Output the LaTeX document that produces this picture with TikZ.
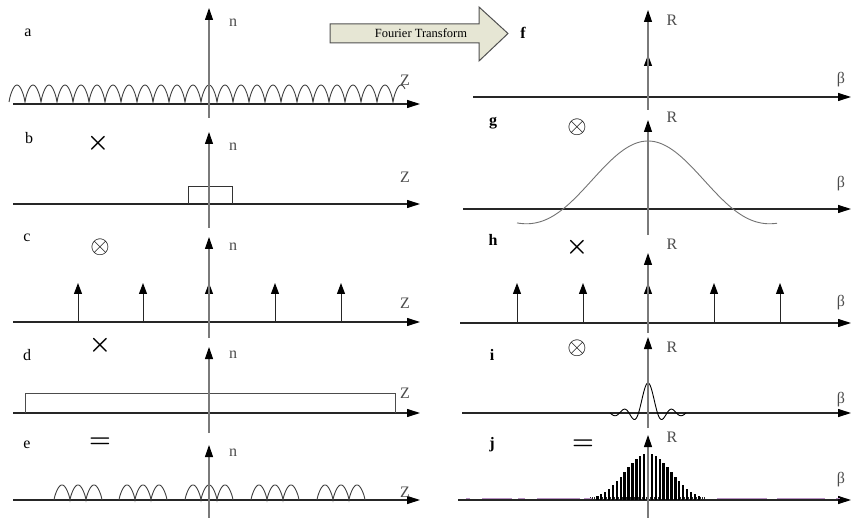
\documentclass[tikz,border=0pt]{standalone}
\usepackage{amsmath}
\usepackage{fontspec}
\setmainfont{Liberation Serif}
\usepackage{tikz}
\usetikzlibrary{arrows.meta}
\definecolor{axisgrey}{HTML}{7A7A7A}
\definecolor{axisdark}{HTML}{262626}
\definecolor{ftfill}{HTML}{E6E6D4}
\definecolor{ftedge}{HTML}{505050}
\definecolor{speck}{HTML}{B890C4}
\tikzset{
  vaxis/.style = {draw=axisgrey, line width=1.1pt, -{Triangle[length=12pt,width=8pt,black]}},
  haxis/.style = {draw=axisdark, line width=1.1pt, -{Triangle[length=13pt,width=8pt,black]}},
  spike/.style = {draw=axisdark, line width=1pt, -{Triangle[length=11pt,width=8pt,black]}},
  trace/.style = {draw=#1, line width=0.9pt},
  bar/.style   = {draw=black, line width=2.4pt},
  tag/.style   = {font=\fontsize{16}{17}\selectfont, inner sep=0pt},
  tagb/.style  = {font=\fontsize{16}{17}\selectfont\bfseries, inner sep=0pt},
  ax/.style    = {font=\fontsize{16}{17}\selectfont, inner sep=0pt, text=black!70},
  op/.style    = {font=\fontsize{27}{27}\selectfont, inner sep=0pt},
  ftshape/.style = {draw=ftedge, fill=ftfill, line width=1pt},
}

\begin{document}
\begin{tikzpicture}[x=1pt, y=-1pt]
  \useasboundingbox (0,0) rectangle (853,518);

  % left column: axes in z
  \foreach \r/\ya/\yt/\yb in {a/104/8/118, b/204/132/228, c/322/237/338, d/413/347/433, e/500/445/518} {
    \coordinate (\r-west) at (13,\ya);
    \coordinate (\r-east) at (420,\ya);
    \coordinate (\r-bot)  at (209,\yb);
    \coordinate (\r-top)  at (209,\yt);
    \draw[haxis] (\r-west) -- (\r-east);
  }
  % right column: axes in beta
  \foreach \r/\ya/\yt/\yb/\xw in {f/97/10/110/473, g/209/120/235/463, h/323/253/333/460, i/413/337/428/462, j/500/435/518/458} {
    \coordinate (\r-west) at (\xw,\ya);
    \coordinate (\r-east) at (851,\ya);
    \coordinate (\r-bot)  at (648,\yb);
    \coordinate (\r-top)  at (648,\yt);
    \draw[haxis] (\r-west) -- (\r-east);
  }

  % a: periodic index profile
  \draw[trace=black!75] plot[domain=9:405, samples=397] (\x, {102-17*abs(sin(11.25*(\x-201)))^0.75});
  % b: single period window
  \draw[trace=black!80] (188,204) -- (188,186) -- (232,186) -- (232,204);
  % c: comb of spikes
  \foreach \xs in {78,143,209,275,341}
    \draw[spike] (\xs,322) -- (\xs,283);
  % d: long window
  \draw[trace=black!70] (25,413) -- (25,393) -- (395,393) -- (395,413);
  % e: bursts of three humps
  \foreach \xc in {78,143,209,275,341}
    \draw[trace=black!75] plot[domain=\xc-24:\xc+24, samples=97] (\x, {500-15*abs(sin(11.25*(\x-\xc+24)))^0.75});

  % f: single spike
  \draw[spike] (648,97) -- (648,55);
  % g: broad sinc
  \draw[trace=black!55] plot[domain=517:777, samples=131] (\x, {209-68*sin(2.1176*(\x-648))/(0.036960*(\x-648))});
  % h: comb of spikes
  \foreach \xs in {517,583,648,714,780}
    \draw[spike] (\xs,323) -- (\xs,283);
  % i: narrow sinc
  \draw[trace=black] plot[domain=610.1:686.1, samples=153] (\x, {413-30*sin(18.947*(\x-648))/(0.33069*(\x-648))});
  % j: sampled envelope
  \foreach \k in {0,...,57}
    \draw[black!85, line width=0.6pt] (590+2*\k,500) -- ++(0,-3.5);
  \foreach \i in {-13,...,13} {
    \pgfmathsetmacro\hh{47*exp(-((3.9*\i)^2)/(2*23*23))}
    \draw[bar] (648+3.9*\i,500) -- ++(0,-\hh);
  }
  \foreach \xa/\xb in {466/470, 482/512, 518/525, 537/580, 584/592, 717/767, 777/825, 836/840}
    \draw[speck, line width=1pt] (\xa,498.5) -- (\xb,498.5);

  % vertical axes on top
  \foreach \r in {a,b,c,d,e,f,g,h,i,j}
    \draw[vaxis] (\r-bot) -- (\r-top);

  % transform arrow
  \draw[ftshape] (330,24) -- (479,24) -- (479,7) -- (508,33.5) -- (479,61) -- (479,43) -- (330,43) -- cycle;
  \node[font=\fontsize{12.5}{13}\selectfont, inner sep=0pt] (ft) at (421,33.5) {Fourier Transform};

  % row tags
  \node[tag] (ta) at (28,33) {a};
  \node[tag] (tb) at (29,138) {b};
  \node[tag] (tc) at (27,238) {c};
  \node[tag] (td) at (27,355) {d};
  \node[tag] (te) at (27,445) {e};
  \node[tagb] (tf) at (523,33) {f};
  \node[tagb] (tg) at (493,123) {g};
  \node[tagb] (th) at (493,240) {h};
  \node[tagb] (ti) at (492,355) {i};
  \node[tagb] (tj) at (492,445) {j};

  % operators
  \node[op] (ob) at (98,143) {$\boldsymbol{\times}$};
  \node[op] (oc) at (100,247) {$\otimes$};
  \node[op] (od) at (100,345) {$\boldsymbol{\times}$};
  \node[op] (oe) at (100,443) {$\boldsymbol{=}$};
  \node[op] (og) at (577,127) {$\otimes$};
  \node[op] (oh) at (577,247) {$\boldsymbol{\times}$};
  \node[op] (oi) at (577,348) {$\otimes$};
  \node[op] (oj) at (583,445) {$\boldsymbol{=}$};

  % axis names
  \foreach \r/\yn/\yz in {a/23/80, b/147/177, c/247/303, d/355/393, e/453/492} {
    \node[ax] (n-\r) at (233,\yn) {n};
    \node[ax] (z-\r) at (405,\yz) {Z};
  }
  \foreach \r/\yn/\yz in {f/20/80, g/117/184, h/244/303, i/347/400, j/437/480} {
    \node[ax] (R-\r) at (672,\yn) {R};
    \node[ax] (b-\r) at (841,\yz) {β};
  }
\end{tikzpicture}
\end{document}
